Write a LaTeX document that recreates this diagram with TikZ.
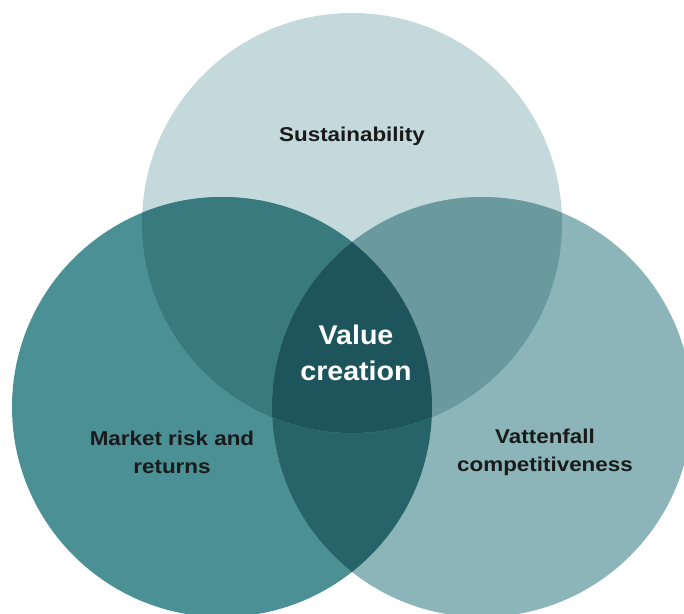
\documentclass[tikz,border=0pt]{standalone}
\usepackage{fontspec}
\setmainfont{Liberation Sans}
\newfontfamily\ringfont[FakeStretch=1.12]{Liberation Sans}
\newfontfamily\corefont[FakeStretch=1.06]{Liberation Sans}

\definecolor{sustain}{HTML}{C3D9DC}
\definecolor{market}{HTML}{4A9095}
\definecolor{compet}{HTML}{8BB5B8}
\definecolor{susmarket}{HTML}{387A7D}
\definecolor{suscompet}{HTML}{6A9A9E}
\definecolor{marketcompet}{HTML}{27646A}
\definecolor{core}{HTML}{1E555C}
\definecolor{ink}{HTML}{1A1A1A}

\tikzset{
  ringtext/.style={text=ink, align=center, font=\ringfont\bfseries\fontsize{20}{28}\selectfont},
  coretext/.style={text=white, align=center, font=\corefont\bfseries\fontsize{27}{36}\selectfont}
}

\begin{document}
\begin{tikzpicture}[x=1pt, y=-1pt]

\useasboundingbox (0,0) rectangle (684,613);
\clip (0,0) rectangle (684,613);

% circle centres
\coordinate (C-top) at (352,223);
\coordinate (C-left) at (222,407);
\coordinate (C-right) at (482,407);

% base circles
\fill[sustain] (C-top) circle (210pt);
\fill[market] (C-left) circle (210pt);
\fill[compet] (C-right) circle (210pt);

% market / competitiveness overlap
\begin{scope}
\clip (C-left) circle (210pt);
\fill[marketcompet] (C-right) circle (210pt);
\end{scope}

% overlaps with sustainability
\begin{scope}
\clip (C-top) circle (210pt);
\fill[susmarket] (C-left) circle (210pt);
\fill[suscompet] (C-right) circle (210pt);
\clip (C-left) circle (210pt);
\fill[core] (C-right) circle (210pt);
\end{scope}

% labels
\node[ringtext] (sustainability) at (352,136) {Sustainability};
\node[ringtext] (marketrisk) at (172,452) {Market risk and\\returns};
\node[ringtext] (competitiveness) at (545,452) {Vattenfall\\competitiveness};
\node[coretext] (valuecreation) at (356,353) {Value\\creation};

\end{tikzpicture}
\end{document}
